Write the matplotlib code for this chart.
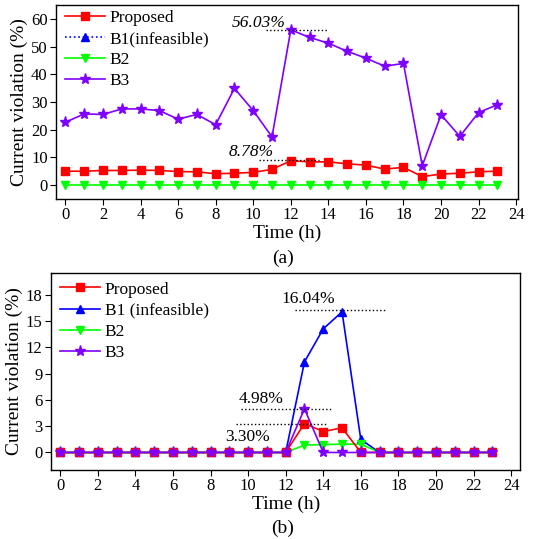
import numpy as np
import matplotlib
matplotlib.use("Agg")
import matplotlib.pyplot as plt

plt.rcParams['font.family'] = ['Liberation Serif', 'DejaVu Serif']
plt.rcParams['mathtext.fontset'] = 'stix'

hours = list(range(24))

# panel (a)
a_proposed = [5.05, 5.0, 5.3, 5.3, 5.4, 5.3, 4.9, 4.8, 4.1, 4.3, 4.6, 5.7,
              8.78, 8.4, 8.4, 7.7, 7.2, 5.8, 6.4, 3.1, 4.0, 4.3, 4.8, 5.05]
a_b2 = [0.0] * 24
a_b3 = [22.7, 25.7, 25.5, 27.5, 27.5, 26.9, 23.8, 25.5, 21.8, 34.9, 26.9, 17.4,
        56.03, 53.3, 51.2, 48.3, 45.8, 42.9, 43.9, 7.0, 25.4, 17.6, 26.2, 29.0]

# panel (b)
b_proposed = [0] * 13 + [3.30, 2.39, 2.81, 0, 0] + [0] * 6
b_b1 = [0] * 13 + [10.33, 14.1, 16.04, 1.48, 0] + [0] * 6
b_b2 = [0] * 13 + [0.84, 0.9, 0.95, 0.95, 0] + [0] * 6
b_b3 = [0] * 13 + [4.98, 0, 0, 0, 0] + [0] * 6

RED = '#FF0000'
BLUE = '#0000FF'
GREEN = '#00FF00'
PURPLE = '#8000FF'

fig = plt.figure(figsize=(5.36, 5.39), dpi=100)
ax1 = fig.add_axes([0.1045, 0.6308, 0.862, 0.36])
ax2 = fig.add_axes([0.095, 0.128, 0.876, 0.366])

lw = 1.2
ms = 6

# ---- panel (a)
ax1.plot(hours, a_proposed, color=RED, marker='s', ms=ms, lw=lw, label='Proposed')
ax1.plot([], [], color=BLUE, marker='^', ms=ms, lw=lw, ls=':', label='B1(infeasible)')
ax1.plot(hours, a_b2, color=GREEN, marker='v', ms=ms, lw=lw, label='B2')
ax1.plot(hours, a_b3, color=PURPLE, marker='*', ms=ms + 2, lw=lw, label='B3')

ax1.hlines(56.03, 10.7, 14.0, colors='black', linestyles=':', lw=1.0)
ax1.text(10.3, 58.6, '56.03%', style='italic', fontsize=12.5, ha='center', va='center')
ax1.hlines(9.1, 10.3, 13.5, colors='black', linestyles=':', lw=1.0)
ax1.text(9.9, 12.1, '8.78%', style='italic', fontsize=12.5, ha='center', va='center')

ax1.set_xlim(-0.5, 24.1)
ax1.set_ylim(-5, 65)
ax1.set_xticks(range(0, 25, 2))
ax1.set_yticks(range(0, 61, 10))
ax1.set_xlabel('Time (h)', fontsize=14, labelpad=1)
ax1.set_ylabel('Current violation (%)', fontsize=14, labelpad=2)
ax1.legend(loc='upper left', frameon=False, fontsize=12.5, handlelength=2.3,
           handletextpad=0.3, labelspacing=0.28, borderaxespad=0.1,
           bbox_to_anchor=(0.0, 1.02))

# ---- panel (b)
ax2.plot(hours, b_b1, color=BLUE, marker='^', ms=ms, lw=lw, label='B1 (infeasible)')
ax2.plot(hours, b_b2, color=GREEN, marker='v', ms=ms, lw=lw, label='B2')
ax2.plot(hours, b_proposed, color=RED, marker='s', ms=ms, lw=lw, label='Proposed')
ax2.plot(hours, b_b3, color=PURPLE, marker='*', ms=ms + 2, lw=lw, label='B3')

ax2.hlines(16.3, 12.5, 17.4, colors='black', linestyles=':', lw=1.0)
ax2.text(13.2, 17.5, '16.04%', fontsize=12.5, ha='center', va='center')
ax2.hlines(5.0, 9.6, 14.5, colors='black', linestyles=':', lw=1.0)
ax2.text(10.7, 6.15, '4.98%', fontsize=12.5, ha='center', va='center')
ax2.hlines(3.27, 9.35, 14.25, colors='black', linestyles=':', lw=1.0)
ax2.text(9.95, 1.8, '3.30%', fontsize=12.5, ha='center', va='center')

ax2.set_xlim(-0.5, 24.5)
ax2.set_ylim(-2, 20.5)
ax2.set_xticks(range(0, 25, 2))
ax2.set_yticks(range(0, 19, 3))
ax2.set_xlabel('Time (h)', fontsize=14, labelpad=1)
ax2.set_ylabel('Current violation (%)', fontsize=14, labelpad=2)
h, l = ax2.get_legend_handles_labels()
order = [2, 0, 1, 3]
ax2.legend([h[i] for i in order], [l[i] for i in order], loc='upper left',
           frameon=False, fontsize=12.5, handlelength=2.3, handletextpad=0.3,
           labelspacing=0.28, borderaxespad=0.1, bbox_to_anchor=(0.0, 1.0))

for ax in (ax1, ax2):
    ax.tick_params(direction='out', labelsize=12, length=4, pad=2)
    for s in ax.spines.values():
        s.set_linewidth(1.0)

fig.text(0.528, 1 - 258 / 539, '(a)', fontsize=14, ha='center', va='center')
fig.text(0.528, 1 - 528 / 539, '(b)', fontsize=14, ha='center', va='center')

fig.savefig('out.png', dpi=100)
